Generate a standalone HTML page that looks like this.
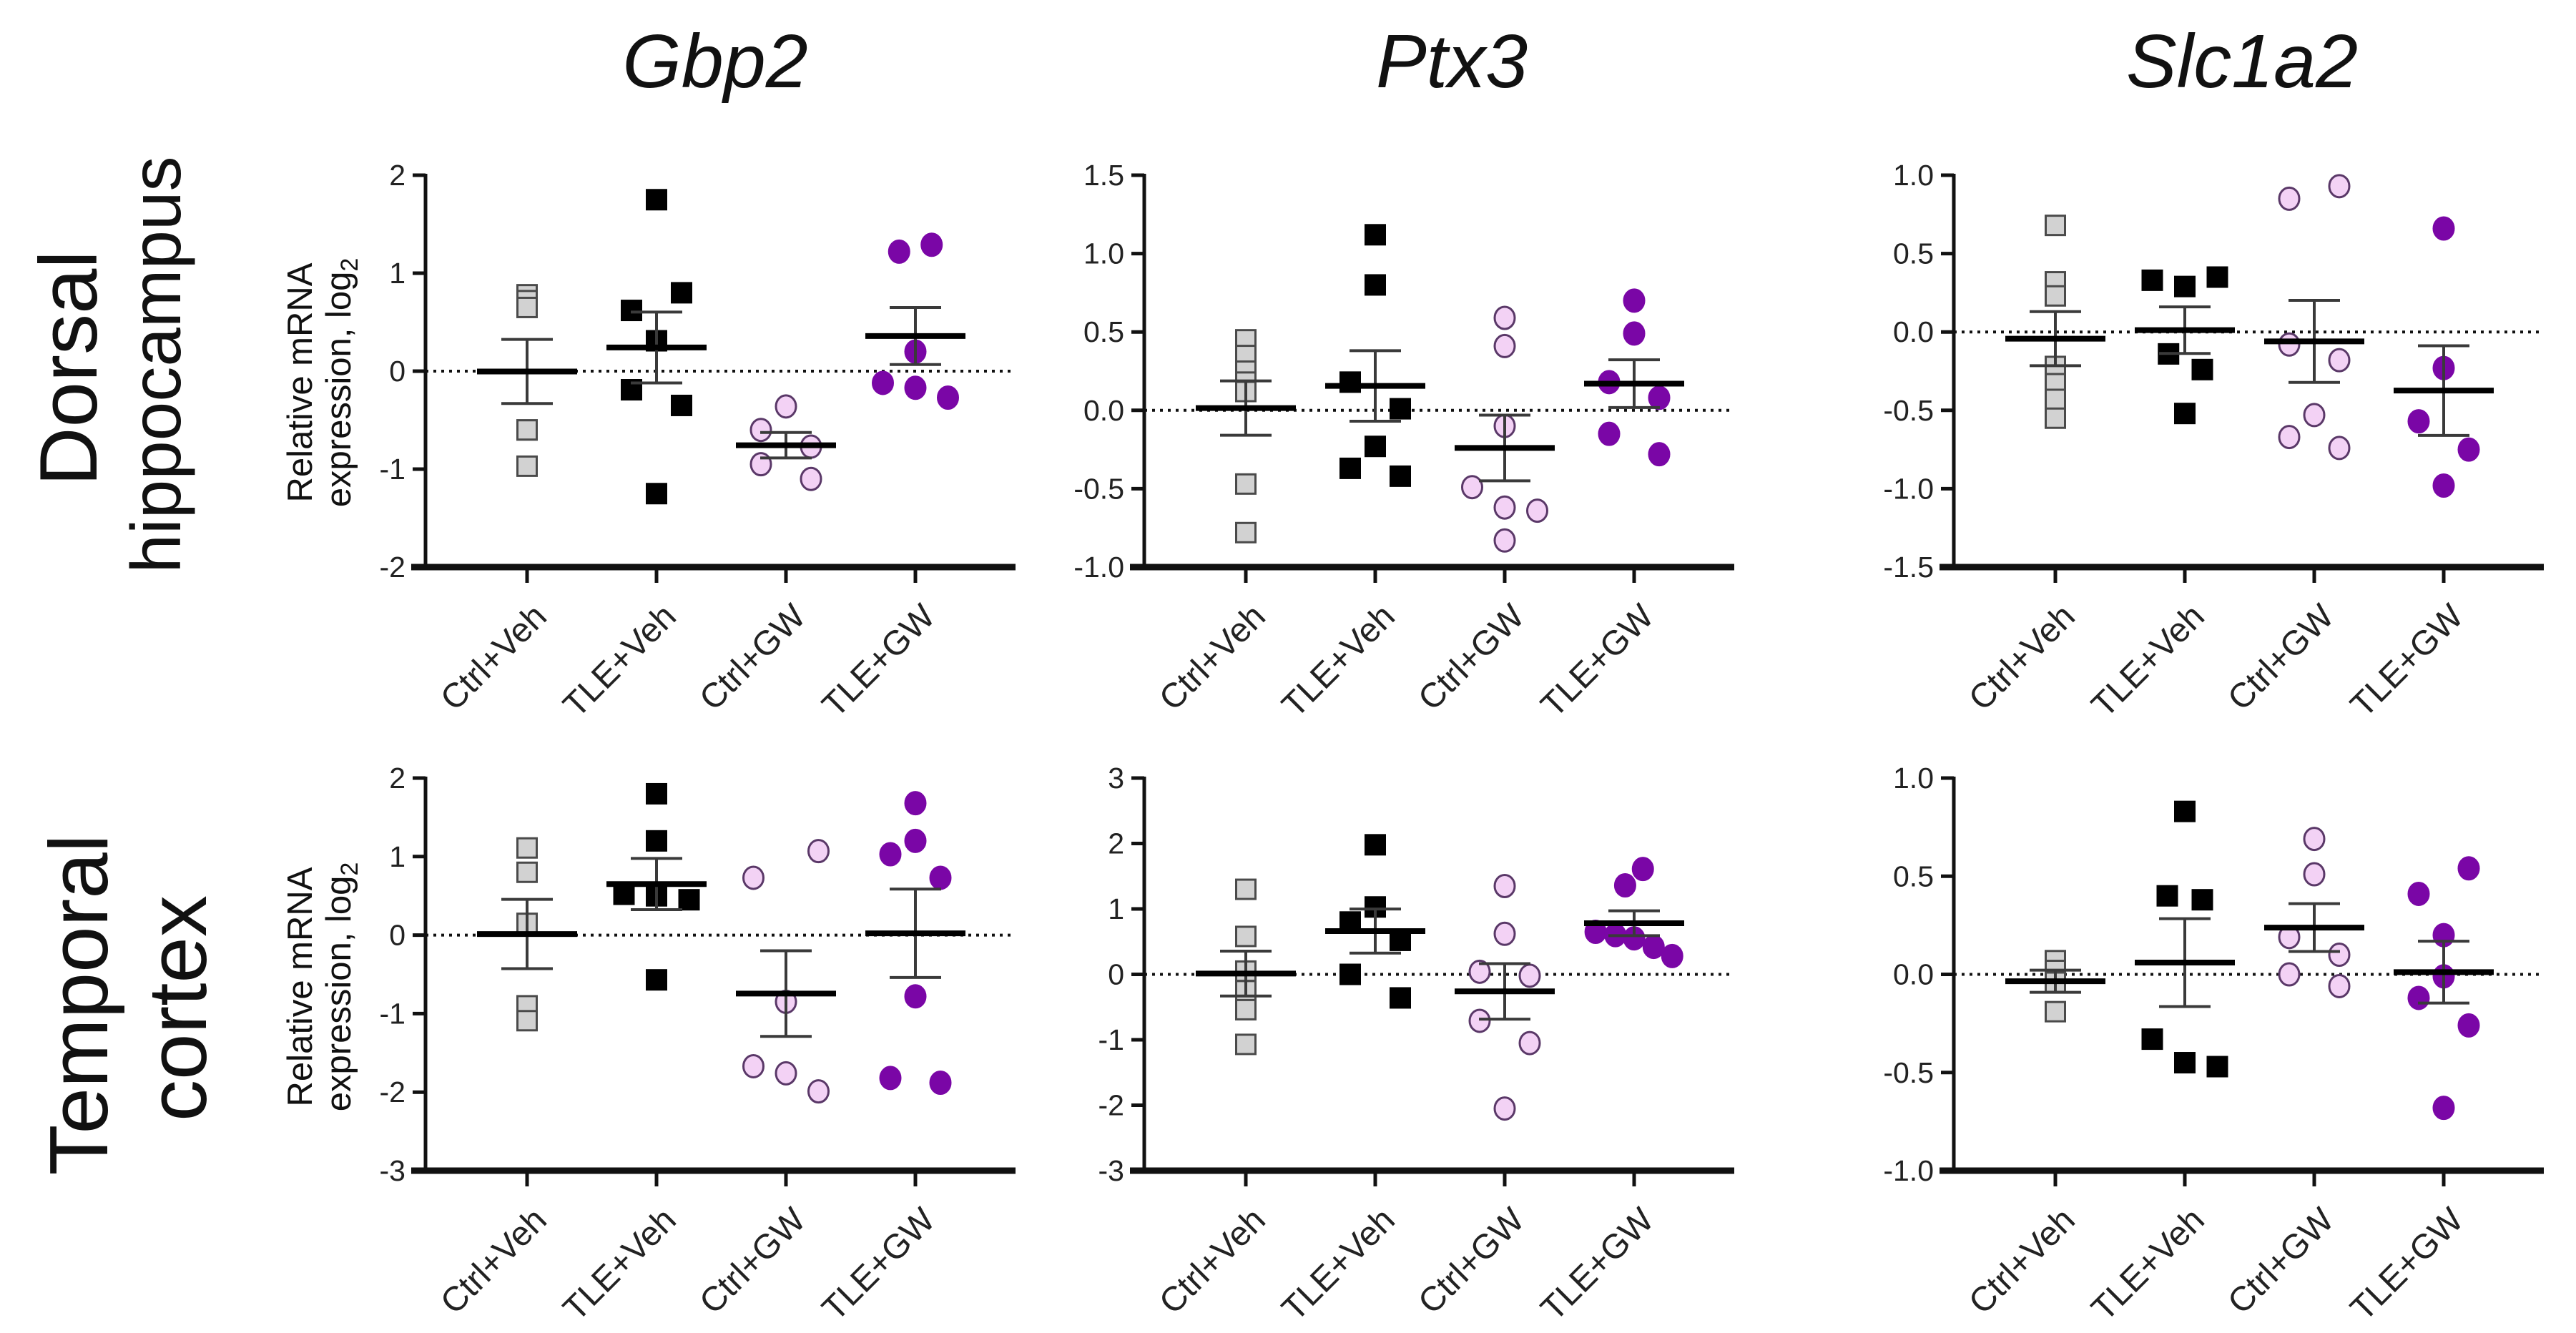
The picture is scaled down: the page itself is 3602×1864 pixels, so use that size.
<!DOCTYPE html>
<html><head><meta charset="utf-8"><style>
html,body{margin:0;padding:0;background:#fff;}
svg{display:block;font-family:"Liberation Sans",Arial,sans-serif;}
</style></head><body>
<svg id="fig" width="3602" height="1864" viewBox="0 0 3602 1864" xmlns="http://www.w3.org/2000/svg">
<g font-style="italic" font-size="106" text-anchor="middle" fill="#111">
<text x="1000" y="122">Gbp2</text>
<text x="2030" y="122">Ptx3</text>
<text x="3135" y="122">Slc1a2</text>
</g>
<g text-anchor="middle" fill="#111">
<text transform="translate(135,515) rotate(-90)" font-size="114">Dorsal</text>
<text transform="translate(252,510) rotate(-90)" font-size="98">hippocampus</text>
<text transform="translate(150,1405) rotate(-90)" font-size="116">Temporal</text>
<text transform="translate(288,1410) rotate(-90)" font-size="116">cortex</text>
</g>
<g font-size="49" text-anchor="middle" fill="#111">
<text transform="translate(436,535) rotate(-90)">Relative mRNA</text>
<text transform="translate(490,535) rotate(-90)">expression, log<tspan font-size="34" dy="10">2</tspan></text>
<text transform="translate(436,1380) rotate(-90)">Relative mRNA</text>
<text transform="translate(490,1380) rotate(-90)">expression, log<tspan font-size="34" dy="10">2</tspan></text>
</g>
<g id="plots"></g>
</svg>
<script>
// ---- data ----
const categories = ["Ctrl+Veh","TLE+Veh","Ctrl+GW","TLE+GW"];

const gbp2DorsalValues = [[0.78,0.72,0.65,-0.60,-0.60,-0.97],[1.75,0.80,0.62,0.31,-0.19,-0.35,-1.25],[-0.36,-0.60,-0.77,-0.95,-1.10],[1.22,1.29,0.20,-0.12,-0.17,-0.27]];
const gbp2DorsalJitter = [[0,0,0,0,0,0],[0,1,-1,0,-1,1,0],[0,-1,1,-1,1],[-0.65,0.65,0,-1.3,0,1.3]];
const gbp2DorsalTicks = [-2,-1,0,1,2];

const ptx3DorsalValues = [[0.45,0.35,0.25,0.18,0.12,-0.47,-0.78],[1.12,0.80,0.18,0.01,-0.23,-0.37,-0.42],[0.59,0.41,-0.10,-0.49,-0.62,-0.64,-0.83],[0.70,0.49,0.18,0.08,-0.15,-0.28]];
const ptx3DorsalJitter = [[0,0,0,0,0,0,0],[0,0,-1,1,0,-1,1],[0,0,0,-1.3,0,1.3,0],[0,0,-1,1,-1,1]];
const ptx3DorsalTicks = [-1.0,-0.5,0.0,0.5,1.0,1.5];

const slc1a2DorsalValues = [[0.68,0.32,0.23,-0.22,-0.33,-0.43,-0.55],[0.33,0.29,0.35,-0.14,-0.24,-0.52],[0.85,0.93,-0.08,-0.18,-0.53,-0.67,-0.74],[0.66,-0.23,-0.57,-0.75,-0.98]];
const slc1a2DorsalJitter = [[0,0,0,0,0,0,0],[-1.3,0,1.3,-0.65,0.7,0],[-1,1,-1,1,0,-1,1],[0,0,-1,1,0]];
const slc1a2DorsalTicks = [-1.5,-1.0,-0.5,0.0,0.5,1.0];

const gbp2CortexValues = [[1.11,0.80,0.15,-0.90,-1.09],[1.80,1.20,0.52,0.50,0.45,-0.57],[1.07,0.73,-0.85,-1.67,-1.76,-1.99],[1.68,1.20,1.03,0.73,-0.78,-1.82,-1.88]];
const gbp2CortexJitter = [[0,0,0,0,0],[0,0,-1.3,0,1.3,0],[1.3,-1.3,0,-1.3,0,1.3],[0,0,-1,1,0,-1,1]];
const gbp2CortexTicks = [-3,-2,-1,0,1,2];

const ptx3CortexValues = [[1.30,0.58,0.05,-0.25,-0.54,-1.07],[1.98,1.03,0.80,0.52,0.00,-0.36],[1.35,0.62,0.04,-0.02,-0.71,-1.05,-2.05],[1.61,1.36,0.65,0.60,0.55,0.42,0.28]];
const ptx3CortexJitter = [[0,0,0,0,0,0],[0,0,-1,1,-1,1],[0,0,-1,1,-1,1,0],[0.35,-0.36,-1.54,-0.75,0,0.78,1.52]];
const ptx3CortexTicks = [-3,-2,-1,0,1,2,3];

const slc1a2CortexValues = [[0.07,0.02,-0.04,-0.19],[0.83,0.40,0.38,-0.33,-0.45,-0.47],[0.69,0.51,0.19,0.10,0.00,-0.06],[0.54,0.41,0.20,-0.01,-0.12,-0.26,-0.68]];
const slc1a2CortexJitter = [[0,0,0,0],[0,-0.7,0.7,-1.3,0,1.3],[0,0,-1,1,-1,1],[1,-1,0,0,-1,1,0]];
const slc1a2CortexTicks = [-1.0,-0.5,0.0,0.5,1.0];

// ---- layout ----
const NS = "http://www.w3.org/2000/svg";
const plots = document.getElementById('plots');
const colX = [595, 1600, 2732];
const rowY = [[245, 793], [1088, 1637]];
const AXW = 825;
const panels = [
  {name:'gbp2-dorsal', c:0, r:0, v:gbp2DorsalValues, j:gbp2DorsalJitter, t:gbp2DorsalTicks, d:0},
  {name:'ptx3-dorsal', c:1, r:0, v:ptx3DorsalValues, j:ptx3DorsalJitter, t:ptx3DorsalTicks, d:1},
  {name:'slc1a2-dorsal', c:2, r:0, v:slc1a2DorsalValues, j:slc1a2DorsalJitter, t:slc1a2DorsalTicks, d:1},
  {name:'gbp2-cortex', c:0, r:1, v:gbp2CortexValues, j:gbp2CortexJitter, t:gbp2CortexTicks, d:0},
  {name:'ptx3-cortex', c:1, r:1, v:ptx3CortexValues, j:ptx3CortexJitter, t:ptx3CortexTicks, d:0},
  {name:'slc1a2-cortex', c:2, r:1, v:slc1a2CortexValues, j:slc1a2CortexJitter, t:slc1a2CortexTicks, d:1}
];
function mk(tag, attrs, parent){
  const e = document.createElementNS(NS, tag);
  for (const k in attrs) e.setAttribute(k, attrs[k]);
  parent.appendChild(e);
  return e;
}
const groupStyle = [
  {shape:'sq', fill:'#d2d2d2', stroke:'#4a4a4a'},
  {shape:'sq', fill:'#000', stroke:'#000'},
  {shape:'ci', fill:'#f3d2f5', stroke:'#5a3868'},
  {shape:'ci', fill:'#7a06a6', stroke:'#7a06a6'}
];

panels.forEach(p => {
  const x0 = colX[p.c], top = rowY[p.r][0], bot = rowY[p.r][1];
  const yMin = p.t[0], yMax = p.t[p.t.length-1];
  const ys = v => top + (yMax - v) / (yMax - yMin) * (bot - top);
  const xs = i => x0 + 142 + i * 181;
  const g = mk('g', {}, plots);
  
  

  const zl = mk('line', {x1:x0, x2:x0+AXW, y1:ys(0), y2:ys(0), stroke:'#111', 'stroke-width':4, 'stroke-dasharray':'4 7'}, g);
  
  

  p.t.forEach(t => {
    const y = ys(t);
    const tk = mk('line', {x1:x0-18, x2:x0, y1:y, y2:y, stroke:'#111', 'stroke-width':5}, g);
    
    
    const lb = mk('text', {x:x0-28, y:y+14, 'font-size':41, 'text-anchor':'end', fill:'#222'}, g);
    lb.textContent = p.d ? t.toFixed(1) : String(t);
    
    
  });
  const ya = mk('line', {x1:x0, x2:x0, y1:top-2, y2:bot, stroke:'#111', 'stroke-width':5}, g);
  
  
  const xa = mk('line', {x1:x0-20, x2:x0+AXW, y1:bot, y2:bot, stroke:'#111', 'stroke-width':9}, g);
  
  

  categories.forEach((c, i) => {
    const cx = xs(i);
    const tk = mk('line', {x1:cx, x2:cx, y1:bot, y2:bot+22, stroke:'#111', 'stroke-width':5}, g);
    
    
    const lb = mk('text', {transform:'translate(' + (cx+30) + ',' + (bot+72) + ') rotate(-45)', 'font-size':48, 'text-anchor':'end', fill:'#222'}, g);
    lb.textContent = c;
    
    

    const vals = p.v[i], jit = p.j[i], st = groupStyle[i];
    vals.forEach((v, k) => {
      const px = cx + (jit[k] || 0) * 35, py = ys(v);
      let m;
      if (st.shape === 'sq') {
        m = mk('rect', {x:px-13.5, y:py-13.5, width:27, height:27, fill:st.fill, stroke:st.stroke, 'stroke-width':3}, g);
      } else {
        m = mk('ellipse', {cx:px, cy:py, rx:14, ry:15.5, fill:st.fill, stroke:st.stroke, 'stroke-width':3}, g);
      }
      
      
    });

    const n = vals.length;
    const mean = vals.reduce((a, b) => a + b, 0) / n;
    const sd = Math.sqrt(vals.reduce((a, b) => a + (b - mean) * (b - mean), 0) / (n - 1));
    const sem = sd / Math.sqrt(n);
    const eb = mk('g', {stroke:'#3a3a3a', 'stroke-width':4}, g);
    
    
    mk('line', {x1:cx, x2:cx, y1:ys(mean+sem), y2:ys(mean-sem)}, eb);
    mk('line', {x1:cx-36, x2:cx+36, y1:ys(mean+sem), y2:ys(mean+sem)}, eb);
    mk('line', {x1:cx-36, x2:cx+36, y1:ys(mean-sem), y2:ys(mean-sem)}, eb);
    const ml = mk('line', {x1:cx-70, x2:cx+70, y1:ys(mean), y2:ys(mean), stroke:'#000', 'stroke-width':8}, g);
    
    
  });
});
</script>
</body></html>
